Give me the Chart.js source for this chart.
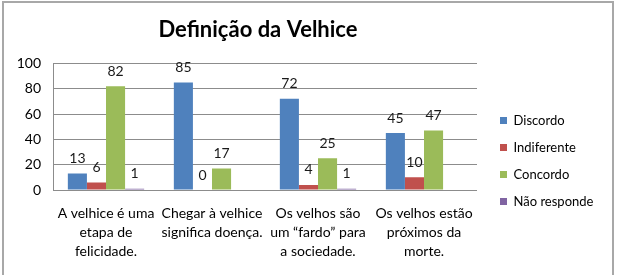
<!DOCTYPE html>
<html>
<head>
<meta charset="utf-8">
<title>Definição da Velhice</title>
<script src="https://cdn.jsdelivr.net/npm/chart.js@4.4.0/dist/chart.umd.min.js"></script>
<style>
  html, body { margin: 0; padding: 0; background: #fff; }
  #wrap { position: relative; width: 620px; height: 275px; overflow: hidden; }
  #frame { position: absolute; left: 2px; top: 1px; width: 612px; height: 300px;
           border: 2px solid #a8a8a8; box-sizing: border-box; }
  #chart { position: absolute; left: 0; top: 0; }
</style>
</head>
<body>
<div id="wrap">
  <div id="frame"></div>
  <canvas id="chart" width="620" height="275"></canvas>
</div>
<script>
// Chart data
const categories = [
  ["A velhice é uma", "etapa de", "felicidade."],
  ["Chegar à velhice", "significa doença."],
  ["Os velhos são", "um “fardo” para", "a sociedade."],
  ["Os velhos estão", "próximos da", "morte."]
];
const seriesNames = ["Discordo", "Indiferente", "Concordo", "Não responde"];
const discordo = [13, 85, 72, 45];
const indiferente = [6, 0, 4, 10];
const concordo = [82, 17, 25, 47];
const naoResponde = [1, null, 1, null];
const yTicks = [0, 20, 40, 60, 80, 100];

const colors = ["#4f81bd", "#c0504d", "#9bbb59", "#8064a2"];
const FONT = "Lato, 'Open Sans', sans-serif";

// value labels above each bar
const valueLabels = {
  id: "valueLabels",
  afterDatasetsDraw(chart) {
    const ctx = chart.ctx;
    ctx.save();
    ctx.font = "14px " + FONT;
    ctx.fillStyle = "#1a1a1a";
    ctx.textAlign = "center";
    ctx.textBaseline = "middle";
    chart.data.datasets.forEach((ds, i) => {
      chart.getDatasetMeta(i).data.forEach((bar, j) => {
        const v = ds.data[j];
        if (v === null || v === undefined) return;
        ctx.fillText(String(v), bar.x, bar.y - 15);
      });
    });
    ctx.restore();
  }
};

// pin title and legend where the original has them
const placeBlocks = {
  id: "placeBlocks",
  beforeLayout(chart) {
    const lg = chart.legend;
    if (lg && !lg._patched) {
      const fit = lg.fit.bind(lg);
      lg.fit = function () { fit(); this.width = 143; };
      lg._patched = true;
    }
  },
  afterLayout(chart) {
    const t = chart.titleBlock;
    if (t) { t.left = 0; t.right = 516; }
    const lg = chart.legend;
    if (lg) { lg.left = 486; lg.right = 620; lg.top = 100; lg.bottom = 275; }
  }
};

const datasets = [discordo, indiferente, concordo, naoResponde].map((d, i) => ({
  label: seriesNames[i],
  data: d,
  backgroundColor: colors[i],
  borderWidth: 0,
  barPercentage: 1,
  categoryPercentage: 0.72
}));

new Chart(document.getElementById("chart").getContext("2d"), {
  type: "bar",
  data: { labels: categories, datasets: datasets },
  options: {
    responsive: false,
    animation: false,
    events: [],
    layout: { padding: { left: 0, right: 0, top: 0, bottom: 5 } },
    plugins: {
      title: {
        display: true,
        text: "Definição da Velhice",
        color: "#000",
        font: { family: FONT, size: 22, weight: "bold", lineHeight: 1.2 },
        padding: { top: 17, bottom: 20 }
      },
      legend: {
        position: "right",
        align: "start",
        labels: {
          boxWidth: 7,
          boxHeight: 7,
          padding: 14,
          color: "#000",
          font: { family: FONT, size: 13 }
        }
      },
      tooltip: { enabled: false }
    },
    scales: {
      x: {
        grid: { display: false, drawTicks: false },
        border: { display: false },
        ticks: {
          autoSkip: false, maxRotation: 0, minRotation: 0,
          padding: 14, color: "#000",
          font: { family: FONT, size: 14, lineHeight: 1.35 }
        },
        afterFit(scale) { scale.height = 80; }
      },
      y: {
        min: 0, max: 100,
        afterBuildTicks(scale) { scale.ticks = yTicks.map(v => ({ value: v })); },
        grid: { color: "#8c8c8c", drawTicks: false },
        border: { display: true, color: "#8c8c8c" },
        ticks: { padding: 12, color: "#000", font: { family: FONT, size: 14 } },
        afterFit(scale) { scale.width = 53; }
      }
    }
  },
  plugins: [valueLabels, placeBlocks]
});
</script>
</body>
</html>
